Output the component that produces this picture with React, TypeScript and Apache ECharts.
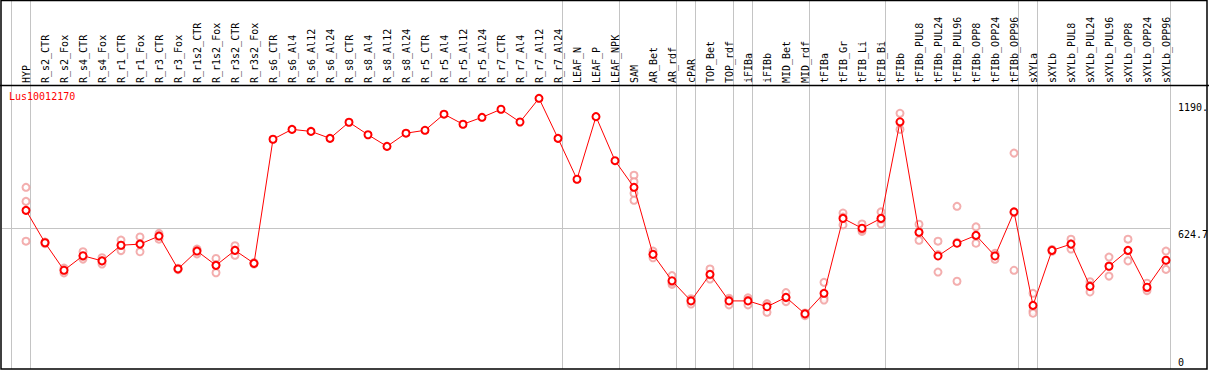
import React, { useEffect, useRef } from "react";
import * as echarts from "echarts";

const categories = [
  "HYP", "R_s2_CTR", "R_s2_Fox", "R_s4_CTR", "R_s4_Fox", "R_r1_CTR", "R_r1_Fox", "R_r3_CTR", "R_r3_Fox",
  "R_r1s2_CTR", "R_r1s2_Fox", "R_r3s2_CTR", "R_r3s2_Fox", "R_s6_CTR", "R_s6_Al4", "R_s6_Al12", "R_s6_Al24",
  "R_s8_CTR", "R_s8_Al4", "R_s8_Al12", "R_s8_Al24", "R_r5_CTR", "R_r5_Al4", "R_r5_Al12", "R_r5_Al24",
  "R_r7_CTR", "R_r7_Al4", "R_r7_Al12", "R_r7_Al24", "LEAF_N", "LEAF_P", "LEAF_NPK", "SAM", "AR_Bet", "AR_rdf",
  "cPAR", "TOP_Bet", "TOP_rdf", "iFIBa", "iFIBb", "MID_Bet", "MID_rdf", "tFIBa", "tFIB_Gr", "tFIB_Li", "tFIB_Bi",
  "tFIBb", "tFIBb_PUL8", "tFIBb_PUL24", "tFIBb_PUL96", "tFIBb_OPP8", "tFIBb_OPP24", "tFIBb_OPP96", "sXYLa",
  "sXYLb", "sXYLb_PUL8", "sXYLb_PUL24", "sXYLb_PUL96", "sXYLb_OPP8", "sXYLb_OPP24", "sXYLb_OPP96",
];

const meanValues = [
  705, 560, 437, 502, 479, 549, 554, 590, 443, 523, 459, 526, 468,
  1023, 1067, 1058, 1027, 1099, 1043, 991, 1050, 1063, 1135, 1090, 1121, 1157, 1100, 1206, 1027,
  844, 1124, 927, 808, 508, 390, 300, 419, 300, 300, 274, 316, 242, 334,
  669, 625, 669, 1101, 607, 501, 558, 593, 501, 698, 280,
  526, 554, 365, 455, 526, 361, 482,
];

const replicates: number[][] = [
  [808, 745, 567], [556, 563, 562], [447, 425, 439], [520, 487, 499], [493, 465, 479],
  [572, 525, 549], [586, 520, 557], [602, 576, 592], [440, 446, 443], [532, 510, 527],
  [490, 426, 461], [547, 504, 527], [465, 471, 468],
  [], [], [], [], [], [], [], [], [], [], [], [], [], [], [], [],
  [], [], [],
  [862, 833, 781, 750], [523, 493, 509], [413, 374, 384], [310, 286, 303], [443, 398, 416],
  [312, 282, 306], [314, 282, 304], [288, 249, 285], [337, 297, 314], [246, 234, 244],
  [383, 314, 304], [693, 640, 675], [644, 611, 619], [698, 644, 666], [1139, 1067, 1098],
  [643, 571, 606], [567, 429, 507], [723, 388, 562], [631, 558, 591], [513, 486, 503],
  [961, 437, 695], [334, 255, 245], [522, 530, 527], [576, 532, 555], [386, 340, 370],
  [496, 411, 457], [576, 479, 524], [379, 346, 358], [523, 441, 481],
];

// index of the last category of each group (-1 = before the first)
const groupEnds = [-1, 0, 28, 31, 34, 35, 37, 38, 41, 45, 52, 53, 60];

const yGridValues = [624.7];
const yTickValues = [0, 624.7, 1190.3];
const yTickLabels = ["0", "624.7", "1190."];
const yMax = 1265.5;

const geneTitle = "Lus10012170";
const FONT = "DejaVu Sans Mono";

export default function App() {
  const ref = useRef<HTMLDivElement>(null);

  useEffect(() => {
    if (!ref.current) return;
    const chart = echarts.init(ref.current, undefined, { renderer: "svg" });

    const repData: number[][] = [];
    replicates.forEach((vals, i) => vals.forEach((v) => repData.push([i, v])));

    chart.setOption({
      animation: false,
      backgroundColor: "#ffffff",
      title: {
        text: geneTitle,
        left: 9,
        top: 91,
        padding: 0,
        textStyle: { color: "#ff0000", fontSize: 10, fontWeight: "normal", fontFamily: FONT },
      },
      grid: { left: 16.5, right: 33.5, top: 85, bottom: 2, containLabel: false },
      xAxis: {
        type: "category",
        data: categories,
        position: "top",
        boundaryGap: true,
        axisLine: { show: false },
        axisTick: { show: false },
        splitLine: { show: false },
        axisLabel: {
          rotate: 90,
          interval: 0,
          margin: 2,
          fontSize: 10,
          fontFamily: FONT,
          color: "#000000",
        },
      },
      yAxis: {
        type: "value",
        min: 0,
        max: yMax,
        show: false,
      },
      series: [
        {
          type: "scatter",
          data: repData,
          symbol: "emptyCircle",
          symbolSize: 7,
          itemStyle: { color: "#f09a9a", borderColor: "#f09a9a", borderWidth: 1.2 },
          z: 3,
        },
        {
          type: "line",
          data: meanValues,
          symbol: "emptyCircle",
          symbolSize: 7,
          lineStyle: { color: "#ff0000", width: 1 },
          itemStyle: { color: "#ff0000", borderColor: "#ff0000", borderWidth: 1.5 },
          z: 4,
        },
      ],
    });

    const p0 = chart.convertToPixel({ xAxisIndex: 0 }, 0) as number;
    const p1 = chart.convertToPixel({ xAxisIndex: 0 }, 1) as number;
    const step = p1 - p0;
    const xOf = (i: number) => p0 + i * step + 4;
    const yOf = (v: number) => chart.convertToPixel({ yAxisIndex: 0 }, v) as number;
    const plotRight = xOf(groupEnds[groupEnds.length - 1]);

    const graphics: any[] = [];
    groupEnds.forEach((g) => {
      const x = Math.round(xOf(g)) + 0.5;
      graphics.push({
        type: "line",
        z: 0,
        shape: { x1: x, y1: 0, x2: x, y2: 369 },
        style: { stroke: "#c4c4c4", lineWidth: 1 },
      });
    });
    yGridValues.forEach((v) => {
      const y = Math.round(yOf(v)) + 0.5;
      graphics.push({
        type: "line",
        z: 0,
        shape: { x1: 2, y1: y, x2: plotRight, y2: y },
        style: { stroke: "#c4c4c4", lineWidth: 1 },
      });
    });
    yTickValues.forEach((v, k) => {
      const top = Math.min(yOf(v) + 1, 357);
      graphics.push({
        type: "text",
        z: 5,
        x: plotRight + 8,
        y: top,
        style: {
          text: yTickLabels[k],
          fill: "#000000",
          fontSize: 10,
          fontFamily: FONT,
          align: "left",
          verticalAlign: "top",
        },
      });
    });
    graphics.push({
      type: "rect",
      z: 6,
      shape: { x: 1, y: 0.5, width: 1206, height: 368.5 },
      style: { fill: "none", stroke: "#000000", lineWidth: 1.5 },
    });
    graphics.push({
      type: "line",
      z: 6,
      shape: { x1: 0, y1: 85.5, x2: 1209, y2: 85.5 },
      style: { stroke: "#000000", lineWidth: 1.5 },
    });

    chart.setOption({ graphic: graphics });

    return () => chart.dispose();
  }, []);

  return (
    <div
      ref={ref}
      style={{ position: "fixed", left: 0, top: 0, width: 1209, height: 370, background: "#fff" }}
    />
  );
}
